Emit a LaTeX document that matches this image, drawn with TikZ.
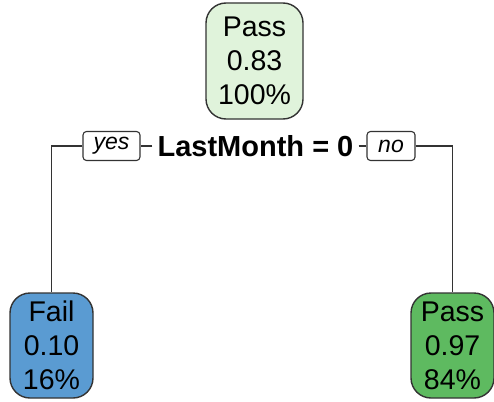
\documentclass[tikz,border=0pt]{standalone}
\usepackage{fontspec}
\setmainfont{Liberation Sans}
\definecolor{rootfill}{HTML}{E0F3DB}
\definecolor{failfill}{HTML}{5A9BD2}
\definecolor{passfill}{HTML}{5EBA60}
\definecolor{edgegray}{HTML}{333333}
\begin{document}
\begin{tikzpicture}[x=1pt,y=-1pt,
  treenode/.style={draw=edgegray, line width=1.4pt, rounded corners=20pt,
    align=center, font=\fontsize{28.5}{34}\selectfont, inner sep=0pt},
  tag/.style={draw=edgegray, line width=1.1pt, rounded corners=3.5pt,
    font=\fontsize{23}{26}\selectfont\itshape, inner sep=0pt, minimum height=29pt},
  wire/.style={draw=edgegray, line width=1.5pt}]
\useasboundingbox (0,0) rectangle (494,401);

% root node
\node[treenode, fill=rootfill, minimum width=97pt, minimum height=116pt]
  (root) at (254.5,61) {Pass\\0.83\\100\%};

% split label and branch tags
\node[font=\bfseries\fontsize{29}{32}\selectfont, inner ysep=0pt, inner xsep=5pt]
  (split) at (255.5,146) {LastMonth = 0};
\node[tag, minimum width=57pt] (yes) at (111.5,146) {yes};
\node[tag, minimum width=48pt] (no) at (391,146) {no};

% leaves
\node[treenode, fill=failfill, minimum width=83pt, minimum height=105pt]
  (fail) at (51.5,345.5) {Fail\\0.10\\16\%};
\node[treenode, fill=passfill, minimum width=83pt, minimum height=105pt]
  (pass) at (452.5,345.5) {Pass\\0.97\\84\%};

% connectors
\draw[wire] (split.west) -- (yes.east);
\draw[wire] (split.east) -- (no.west);
\draw[wire] (yes.west) -| (fail.north);
\draw[wire] (no.east) -| (pass.north);
\end{tikzpicture}
\end{document}
